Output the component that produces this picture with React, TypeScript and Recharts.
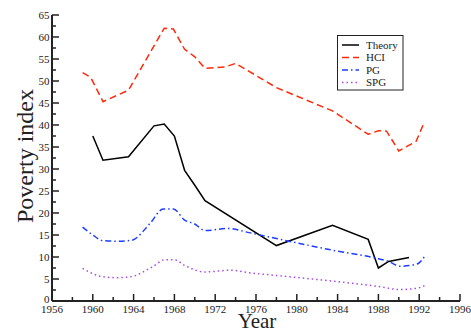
import React from 'react';
import { LineChart, Line, XAxis, YAxis } from 'recharts';

const theoryYears = [1960, 1961, 1963.5, 1966, 1967, 1968, 1969, 1970, 1971, 1978, 1983.5, 1987, 1988, 1989, 1991];
const theoryValues = [37.5, 32.0, 32.8, 39.8, 40.2, 37.5, 29.7, 26.3, 22.8, 12.6, 17.2, 14.0, 7.5, 9.0, 9.9];

const hciYears = [1959, 1959.8, 1961, 1963.5, 1965.6, 1967, 1967.9, 1969, 1970, 1971, 1973, 1974, 1978, 1983.5, 1987, 1988, 1988.8, 1990, 1991.7, 1992.4];
const hciValues = [51.9, 50.8, 45.3, 47.9, 56.4, 62.0, 61.8, 57.2, 55.5, 52.9, 53.2, 54.0, 48.5, 43.2, 37.9, 38.7, 38.6, 34.1, 36.3, 40.1];

const pgYears = [1959, 1960, 1961, 1962.4, 1963.8, 1965.6, 1966.9, 1967.9, 1969, 1970, 1971, 1973.3, 1975.2, 1978, 1983.6, 1988, 1989, 1990.1, 1991.8, 1992.6];
const pgValues = [16.8, 15.0, 13.7, 13.6, 13.8, 17.6, 20.9, 20.9, 18.4, 17.5, 16.0, 16.5, 15.6, 14.2, 11.5, 9.6, 9.0, 7.9, 8.4, 10.4];

const spgYears = [1959, 1960, 1961, 1962.4, 1963.7, 1965.8, 1967.1, 1968.1, 1969, 1971, 1973.5, 1975.4, 1978, 1984, 1988, 1990.1, 1991.8, 1992.6];
const spgValues = [7.4, 6.2, 5.5, 5.3, 5.5, 7.7, 9.4, 9.3, 8.1, 6.6, 7.0, 6.4, 5.8, 4.4, 3.3, 2.6, 2.9, 3.6];

const xTicks = [1956, 1958, 1960, 1962, 1964, 1966, 1968, 1970, 1972, 1974, 1976, 1978, 1980, 1982, 1984, 1986, 1988, 1990, 1992, 1994, 1996];
const yTicks = [0, 2.5, 5, 7.5, 10, 12.5, 15, 17.5, 20, 22.5, 25, 27.5, 30, 32.5, 35, 37.5, 40, 42.5, 45, 47.5, 50, 52.5, 55, 57.5, 60, 62.5, 65];

const toRows = (years: number[], values: number[]) =>
  years.map((year, i) => ({ year, value: values[i] }));

const series = [
  { name: 'Theory', data: toRows(theoryYears, theoryValues), color: '#000000', dash: undefined, type: 'linear' },
  { name: 'HCI', data: toRows(hciYears, hciValues), color: '#ff2a0a', dash: '7 4', type: 'linear' },
  { name: 'PG', data: toRows(pgYears, pgValues), color: '#1f3dff', dash: '6 3 1.5 3', type: 'monotone' },
  { name: 'SPG', data: toRows(spgYears, spgValues), color: '#a848f0', dash: '1.5 3', type: 'monotone' },
];

const font = "'Liberation Serif', 'DejaVu Serif', serif";
const ink = '#222';

const BottomTick = (props: any) => {
  const { x, y, payload } = props;
  const major = payload.value % 4 === 0;
  return (
    <g>
      <line x1={x} x2={x} y1={y} y2={y - (major ? 7 : 4)} stroke={ink} strokeWidth={1.5} />
      {major && (
        <text x={x} y={y + 11.5} textAnchor="middle" fontSize={11} fontFamily={font} fill={ink}>
          {payload.value}
        </text>
      )}
    </g>
  );
};

const TopTick = (props: any) => {
  const { x, y, payload } = props;
  const major = payload.value % 4 === 0;
  return <line x1={x} x2={x} y1={y} y2={y + (major ? 7 : 4)} stroke={ink} strokeWidth={1.5} />;
};

const LeftTick = (props: any) => {
  const { x, y, payload } = props;
  const major = payload.value % 5 === 0;
  // the zero label sits a little higher so it clears the first year label
  const lift = payload.value === 0 ? -1.5 : 0;
  return (
    <g>
      <line x1={x} x2={x + (major ? 7 : 4)} y1={y} y2={y} stroke={ink} strokeWidth={1.5} />
      {major && (
        <text x={x - 2.5} y={y + lift} dy="0.35em" textAnchor="end" fontSize={11} fontFamily={font} fill={ink}>
          {payload.value}
        </text>
      )}
    </g>
  );
};

const RightTick = (props: any) => {
  const { x, y, payload } = props;
  const major = payload.value % 5 === 0;
  return <line x1={x} x2={x - (major ? 7 : 4)} y1={y} y2={y} stroke={ink} strokeWidth={1.5} />;
};

const axisLine = { stroke: ink, strokeWidth: 2 };

export default function App() {
  return (
    <div style={{ position: 'absolute', left: 0, top: 0, width: 471, height: 333, background: '#fff' }}>
      <LineChart width={471} height={333} margin={{ top: 15, right: 11, bottom: 0, left: 0 }}>
        <XAxis
          type="number"
          dataKey="year"
          domain={[1956, 1996]}
          ticks={xTicks}
          interval={0}
          height={32}
          tickSize={0}
          tickMargin={0}
          tickLine={false}
          axisLine={axisLine}
          tick={BottomTick}
        />
        <XAxis
          xAxisId="top"
          orientation="top"
          type="number"
          dataKey="year"
          domain={[1956, 1996]}
          ticks={xTicks}
          interval={0}
          height={0}
          tickSize={0}
          tickMargin={0}
          tickLine={false}
          axisLine={axisLine}
          tick={TopTick}
        />
        <YAxis
          type="number"
          domain={[0, 65]}
          ticks={yTicks}
          interval={0}
          width={52}
          tickSize={0}
          tickMargin={0}
          tickLine={false}
          axisLine={axisLine}
          tick={LeftTick}
        />
        <YAxis
          yAxisId="right"
          orientation="right"
          type="number"
          domain={[0, 65]}
          ticks={yTicks}
          interval={0}
          width={0}
          tickSize={0}
          tickMargin={0}
          tickLine={false}
          axisLine={axisLine}
          tick={RightTick}
        />
        {series.map((s) => (
          <Line
            key={s.name}
            data={s.data}
            dataKey="value"
            name={s.name}
            type={s.type as any}
            stroke={s.color}
            strokeWidth={1.5}
            strokeDasharray={s.dash}
            dot={false}
            isAnimationActive={false}
          />
        ))}
      </LineChart>
      <svg
        width={471}
        height={333}
        style={{ position: 'absolute', left: 0, top: 0, pointerEvents: 'none' }}
      >
        <text
          x={25}
          y={156}
          transform="rotate(-90 25 156)"
          textAnchor="middle"
          dy="0.35em"
          fontSize={24}
          fontFamily={font}
          fill={ink}
        >
          Poverty index
        </text>
        <text x={257} y={328} textAnchor="middle" fontSize={21} fontFamily={font} fill={ink}>
          Year
        </text>
        <rect x={337.5} y={35.5} width={65.5} height={54.5} fill="#fff" stroke={ink} strokeWidth={1} />
        {series.map((s, i) => {
          const cy = 45 + i * 12.5;
          return (
            <g key={s.name}>
              <line
                x1={342}
                x2={359}
                y1={cy}
                y2={cy}
                stroke={s.color}
                strokeWidth={1.5}
                strokeDasharray={s.dash}
              />
              <text x={366} y={cy} dy="0.35em" fontSize={11} fontFamily={font} fill={ink}>
                {s.name}
              </text>
            </g>
          );
        })}
      </svg>
    </div>
  );
}
